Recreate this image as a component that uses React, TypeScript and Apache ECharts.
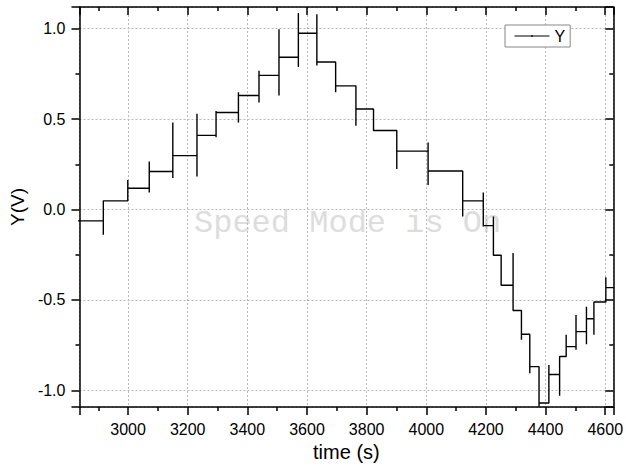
import React, { useEffect, useRef } from "react";
import * as echarts from "echarts";

// Step levels (V), in time order
const levels = [
  -0.0625, 0.048, 0.118, 0.21, 0.298, 0.41, 0.537, 0.631, 0.742, 0.842, 0.975,
  0.816, 0.684, 0.556, 0.437, 0.323, 0.213, 0.048, -0.089, -0.253, -0.419,
  -0.558, -0.69, -0.869, -1.07, -0.912, -0.813, -0.758, -0.675, -0.604, -0.511,
  -0.432,
];
// Times (s) at which the level changes
const transitionTimes = [
  2917, 2999, 3071, 3150, 3231, 3295, 3370, 3439, 3506, 3571, 3633, 3696, 3764,
  3823, 3901, 4006, 4122, 4191, 4225, 4251, 4291, 4319, 4347, 4378, 4411, 4447,
  4469, 4502, 4537, 4562, 4602,
];
// Spike extremes at each transition
const spikeHigh = [
  0.048, 0.164, 0.266, 0.481, 0.53, 0.545, 0.648, 0.767, 0.997, 1.087, 1.08,
  0.816, 0.684, 0.556, 0.437, 0.371, 0.213, 0.094, -0.039, -0.253, -0.241,
  -0.558, -0.69, -0.869, -0.86, -0.813, -0.693, -0.583, -0.537, -0.511, -0.374,
];
const spikeLow = [
  -0.14, 0.048, 0.094, 0.174, 0.183, 0.4, 0.481, 0.592, 0.631, 0.788, 0.797,
  0.648, 0.463, 0.437, 0.224, 0.135, -0.039, -0.094, -0.253, -0.419, -0.558,
  -0.72, -0.905, -1.09, -1.07, -1.03, -0.813, -0.776, -0.745, -0.693, -0.511,
];
const startTime = 2830;
const endTime = 4630;

const xMin = 2837;
const xMax = 4627;
const yMin = -1.092;
const yMax = 1.12;

const buildSeries = (): [number, number][] => {
  const pts: [number, number][] = [[startTime, levels[0]]];
  transitionTimes.forEach((t, i) => {
    pts.push([t, levels[i]]);
    pts.push([t, spikeHigh[i]]);
    pts.push([t, spikeLow[i]]);
    pts.push([t, levels[i + 1]]);
  });
  pts.push([endTime, levels[levels.length - 1]]);
  return pts;
};

const FONT = "Liberation Sans, Arial, sans-serif";

export default function App() {
  const ref = useRef<HTMLDivElement>(null);
  useEffect(() => {
    if (!ref.current) return;
    const chart = echarts.init(ref.current, null, { renderer: "svg" });
    const gridLine = { show: true, lineStyle: { color: "#b8b8b8", type: [2, 2] as any, width: 1 } };
    const axisLine = { show: true, onZero: false, lineStyle: { color: "#000", width: 1.5 } };
    const tickStyle = { color: "#000", width: 1.5 };
    chart.setOption({
      animation: false,
      backgroundColor: "#fff",
      grid: { left: 77, top: 7, right: 12, bottom: 64, containLabel: false },
      legend: {
        show: true,
        left: 505,
        top: 25,
        data: ["Y"],
        itemWidth: 35,
        itemHeight: 2,
        padding: [3, 5, 3, 9],
        backgroundColor: "#fff",
        borderColor: "#888",
        borderWidth: 1,
        lineStyle: { width: 1 },
        textStyle: { fontFamily: FONT, fontSize: 16, color: "#000" },
        z: 20,
      },
      graphic: [
        {
          type: "text",
          left: 194,
          top: 207,
          z: 0,
          silent: true,
          style: {
            text: "Speed Mode is On",
            font: "32px 'Liberation Mono', 'Courier New', monospace",
            fill: "#dddddd",
          },
        },
      ],
      xAxis: [
        {
          type: "value",
          min: xMin,
          max: xMax,
          minInterval: 200,
          maxInterval: 200,
          position: "bottom",
          name: "time (s)",
          nameLocation: "middle",
          nameGap: 34,
          nameTextStyle: { fontFamily: FONT, fontSize: 20, color: "#000" },
          axisLine,
          axisTick: { show: true, inside: false, length: 8, lineStyle: tickStyle },
          minorTick: { show: true, splitNumber: 2, length: 4, lineStyle: tickStyle },
          axisLabel: {
            show: true,
            margin: 14,
            showMinLabel: false,
            showMaxLabel: false,
            fontFamily: FONT,
            fontSize: 16,
            color: "#000",
            formatter: (v: number) => String(Math.round(v)),
          },
          splitLine: gridLine,
        },
        {
          type: "value",
          min: xMin,
          max: xMax,
          minInterval: 200,
          maxInterval: 200,
          position: "top",
          axisLine,
          axisTick: { show: true, inside: true, length: 8, lineStyle: tickStyle },
          minorTick: { show: true, splitNumber: 2, length: 4, lineStyle: tickStyle },
          axisLabel: { show: false },
          splitLine: { show: false },
        },
      ],
      yAxis: [
        {
          type: "value",
          min: yMin,
          max: yMax,
          minInterval: 0.5,
          maxInterval: 0.5,
          position: "left",
          name: "Y(V)",
          nameLocation: "middle",
          nameGap: 44,
          nameTextStyle: { fontFamily: FONT, fontSize: 19, color: "#000" },
          axisLine,
          axisTick: { show: true, inside: false, length: 8, lineStyle: tickStyle },
          minorTick: { show: true, splitNumber: 2, length: 4, lineStyle: tickStyle },
          axisLabel: {
            show: true,
            margin: 14,
            showMinLabel: false,
            showMaxLabel: false,
            fontFamily: FONT,
            fontSize: 16,
            color: "#000",
            formatter: (v: number) => v.toFixed(1),
          },
          splitLine: gridLine,
        },
        {
          type: "value",
          min: yMin,
          max: yMax,
          minInterval: 0.5,
          maxInterval: 0.5,
          position: "right",
          axisLine,
          axisTick: { show: true, inside: true, length: 8, lineStyle: tickStyle },
          minorTick: { show: true, splitNumber: 2, length: 4, lineStyle: tickStyle },
          axisLabel: { show: false },
          splitLine: { show: false },
        },
      ],
      series: [
        {
          name: "Y",
          type: "line",
          xAxisIndex: 0,
          yAxisIndex: 0,
          data: buildSeries(),
          symbol: "none",
          showSymbol: false,
          clip: true,
          z: 5,
          lineStyle: { color: "#000", width: 1.4 },
          itemStyle: { color: "#000" },
        },
      ],
    });
    return () => chart.dispose();
  }, []);
  return (
    <div
      ref={ref}
      style={{ position: "fixed", left: 0, top: 0, width: 626, height: 471 }}
    />
  );
}
